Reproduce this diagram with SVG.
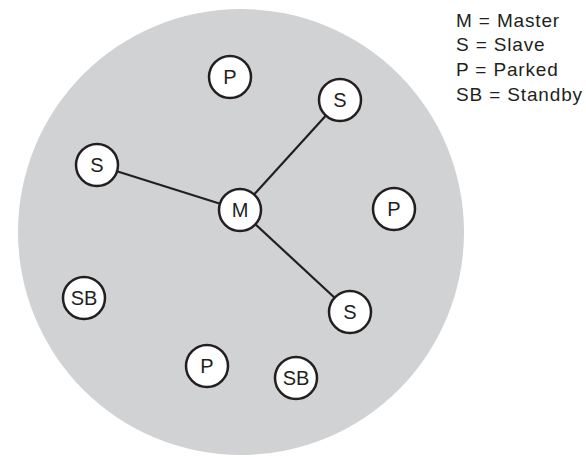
<svg xmlns="http://www.w3.org/2000/svg" width="586" height="457" viewBox="0 0 586 457">
<style>
.n circle{fill:#fff;stroke:#231f20;stroke-width:2.5}
.n text{font-family:"Liberation Sans",Arial,sans-serif;font-size:20px;fill:#231f20;text-anchor:middle;dominant-baseline:central}
.c line{stroke:#231f20;stroke-width:2.2}
.leg{font-family:"Liberation Sans",Arial,sans-serif;font-size:19px;letter-spacing:0.85px;fill:#231f20}
</style>
<circle id="piconet" cx="241" cy="232" r="223" fill="#d1d2d4"/>
<g id="connectors" class="c">
<line x1="240" y1="210" x2="97" y2="165"/>
<line x1="240" y1="210" x2="340" y2="100"/>
<line x1="240" y1="210" x2="350" y2="312"/>
</g>
<g id="m" class="n"><circle cx="240" cy="210" r="21"/><text x="240" y="210">M</text></g>
<g id="p1" class="n"><circle cx="230" cy="77" r="21"/><text x="230" y="77">P</text></g>
<g id="s1" class="n"><circle cx="340" cy="100" r="21"/><text x="340" y="100">S</text></g>
<g id="s2" class="n"><circle cx="97" cy="165" r="21"/><text x="97" y="165">S</text></g>
<g id="p2" class="n"><circle cx="394" cy="209" r="21"/><text x="394" y="209">P</text></g>
<g id="sb1" class="n"><circle cx="84" cy="298" r="21"/><text x="84" y="298">SB</text></g>
<g id="s3" class="n"><circle cx="350" cy="312" r="21"/><text x="350" y="312">S</text></g>
<g id="p3" class="n"><circle cx="207" cy="366" r="21"/><text x="207" y="366">P</text></g>
<g id="sb2" class="n"><circle cx="296" cy="378" r="21"/><text x="296" y="378">SB</text></g>
<g id="legend" class="leg">
<text x="456" y="26.5">M = Master</text>
<text x="456" y="51.3">S = Slave</text>
<text x="456" y="76">P = Parked</text>
<text x="456" y="100.8">SB = Standby</text>
</g>
</svg>
